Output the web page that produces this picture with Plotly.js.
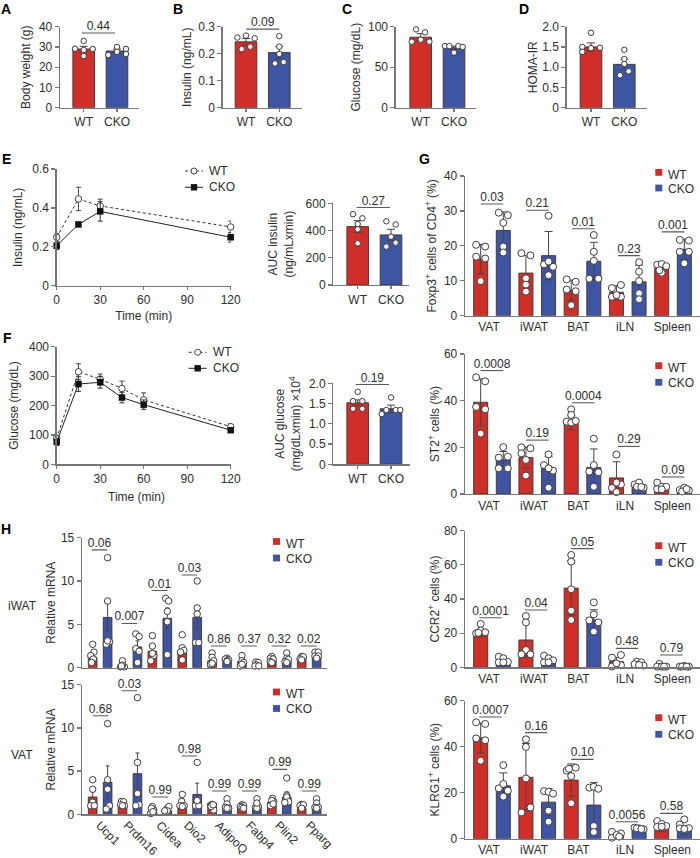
<!DOCTYPE html>
<html><head><meta charset="utf-8">
<script src="https://cdn.plot.ly/plotly-3.0.1.min.js"></script>
<style>html,body{margin:0;padding:0;background:#fff}</style>
</head><body><div id="chart" style="width:700px;height:858px"></div>
<script>
// ---------- shared labels ----------
const pair = ['WT','CKO'];
const tissues = ['VAT','iWAT','BAT','iLN','Spleen'];
const tissueTickVals = [0.37,2.36,4.32,6.38,8.47];
const genes = ['Ucp1','Prdm16','Cidea','Dio2','AdipoQ','Fabp4','Plin2','Pparg'];
const geneTickVals = [0.45,2.3,4.5,6.35,8.45,10.5,12.45,14.5];

// ---------- A-D, AUC panels: [WT, CKO] ----------
const aMeans=[29,28], aErrs=[1.3,0.9];
const aDots=[[29.1,33,29,28.5,25.5],[26,30,29,27.6,26.5]];
const aJit=[[-.26,0,.27,0,0],[-.26,0,.27,0,.27]];
const bMeans=[.244,.204], bErrs=[.012,.022];
const bDots=[[.26,.267,.257,.217,.226],[.265,.226,.199,.164,.169]];
const bJit=[[-.26,0,.26,-.13,.13],[0,0,0,-.13,.13]];
const cMeans=[87,74], cErrs=[4.5,2];
const cDots=[[96.7,93,84,81.5,81.5],[76,76,76,75,68]];
const cJit=[[-.14,.13,0,-.27,.26],[-.27,-.14,.13,.26,0]];
const dMeans=[1.5,1.07], dErrs=[.1,.13];
const dDots=[[1.85,1.5,1.47,1.48,1.38],[1.43,1.2,1.08,.9,.8]];
const dJit=[[0,-.26,0,.27,-.26],[0,0,0,.13,-.13]];
const eAucMeans=[429,368], eAucErrs=[44,41];
const eAucDots=[[520,490,448,409,306],[468,444,355,311,282]];
const eAucJit=[[-.14,.14,0,0,0],[-.14,.14,0,.14,-.14]];
const fAucMeans=[1.52,1.37], fAucErrs=[.07,.09];
const fAucDots=[[1.79,1.56,1.56,1.37,1.37],[1.65,1.34,1.34,1.24,1.34]];
const fAucJit=[[0,-.14,.14,-.14,.14],[0,-.14,.14,-.28,.28]];

// ---------- E, F time courses ----------
const eTimes=[0,15,30,120];
const eWt=[.249,.446,.41,.302], eWtErr=[.02,.06,.035,.03];
const eKo=[.206,.315,.382,.249], eKoErr=[.02,.01,.05,.025];
const fTimes=[0,15,30,45,60,120];
const fWt=[88,315,289,258,219,128], fWtErr=[10,27,18,25,24,10];
const fKo=[76,273,279,227,203,116], fKoErr=[12,25,20,18,16,8];

// ---------- G: alternating WT, CKO per tissue ----------
const g1Means=[16.2,24.4,12.2,17.2,7.3,15.6,6.7,9.7,13.6,19];
const g1Errs=[4.2,5.3,5,6.9,2.9,5.4,1.9,4.8,1,2.9];
const g1Dots=[[20.3,19.8,16.9,16.4,9.9],[29.5,28.8,26.6,19.8,18.1],[17.9,17.3,10.7,8.9,6.9],[28.6,14.7,14,15.5,11.6],[10.4,9.7,7.5,7,3],[23.1,18.3,15.7,10.6,10.6],[7.9,8.8,5.4,5.4,5.9],[15.3,12.6,9.9,6.4,4.7],[14.6,14.8,14.2,12.3,13],[21.7,21.5,18.3,18.3,15]];
const g1Jit=[[-.2,.2,-.2,.2,0],[-.2,.2,0,0,0],[-.2,.2,0,0,0],[0,-.2,.2,0,0],[-.2,.2,-.2,.2,0],[0,0,0,-.2,.2],[-.2,.2,-.2,.2,0],[0,0,0,0,0],[-.2,0,.2,0,-.1],[-.2,.2,-.2,.2,0]];
const g1P=['0.03','0.21','0.01','0.23','0.001'], g1Lv=[32,30.2,24.9,17.2,24];
const g2Means=[39.3,14.6,15.6,11,30.5,11.4,6.9,2.9,2.4,1.5];
const g2Errs=[10,3.6,4.5,5,3,7.9,6.9,.8,1.2,.6];
const g2Dots=[[50,48.3,37.3,36.3,25.9],[20.1,15.6,16,11,11],[20,19.6,17.4,14.6,7.9],[17,12.4,10,11,2.7],[36.3,33.9,31,30.6,31.3],[23.7,12.4,9.6,9.3,3.1],[16.9,4.1,4.9,2.6,.8],[4.1,4.9,2.7,3.1,3],[4.9,2.1,3.1,3.1,2],[1.7,2.7,1.6,1.1,2.1]];
const g2Jit=[[-.2,.2,-.2,.2,0],[0,-.2,.2,-.2,.2],[-.2,.2,-.2,0,0],[0,-.2,.2,0,0],[0,0,-.2,0,.2],[0,0,-.2,.2,0],[0,.2,0,-.2,0],[-.2,0,.2,-.1,.1],[-.2,-.2,0,.2,0],[-.2,0,.2,-.1,.1]];
const g2P=['0.0008','0.19','0.0004','0.29','0.09'], g2Lv=[52.9,23.1,39.1,20.4,7.3];
const g3Means=[19.9,3,16,2.7,46.4,27.7,3.3,1.6,.8,.5];
const g3Errs=[2,1.4,10,1.4,16,6,2.5,.8,.5,.2];
const g3Dots=[[25.4,19.9,21.5,20.5,20.2],[6.2,2.9,5.3,3.1,2.9],[30,26.3,10.1,7.6,7.6],[6.8,5.3,4.1,2.9,2.9],[65.8,61.9,45.7,33.2,27.7],[38,31,27.5,26.3,20.9],[5.7,7.2,.4,1.2,2.3],[3.3,2.9,1.8,1,1.4],[2,.4,.4,.4,.4],[.4,.8,.4,.4,.4]];
const g3Jit=[[0,-.2,0,.2,-.1],[-.2,-.2,0,.2,0],[0,0,0,-.2,.2],[-.2,0,.2,-.2,0],[0,0,0,0,0],[0,0,-.2,.2,0],[-.2,.2,-.2,.2,0],[-.1,.1,-.2,.2,0],[-.1,-.2,0,.2,.1],[-.2,0,.2,-.1,.1]];
const g3P=['0.0001','0.04','0.05','0.48','0.79'], g3Lv=[29,33.6,69.5,11.1,7.2];
const g4Means=[43.8,23,26.7,15.9,25.5,14.6,1.2,3.8,4.2,3.8];
const g4Errs=[6.5,5.6,14.7,5.9,7,9.8,1,.4,1.1,1.9];
const g4Dots=[[50.6,49.9,43.6,42.8,33.9],[32,21.9,20.9,23.8,18.3],[43.2,39.9,26.2,13.6,11.4],[20.7,20.4,19.6,12.2,7.4],[29.6,30.9,27.2,15.4,30.4],[22.2,22.6,21.7,5.5,2.9],[3,2.3,.4,1.6,.9],[4.8,4.5,4.1,4.5,4.2],[7.7,6.4,5.1,5.5,5.2],[8.4,6.2,4.6,4.5,4.2]];
const g4Jit=[[-.2,.2,-.2,.2,0],[0,-.2,.2,0,0],[0,0,0,.2,-.2],[-.2,0,.2,0,0],[-.2,.2,0,0,-.1],[-.2,0,.2,0,0],[-.2,.2,-.2,0,.12],[-.2,0,.2,-.1,.1],[-.2,0,-.2,.2,0],[0,-.2,.2,-.2,0]];
const g4P=['0.0007','0.16','0.10','0.0056','0.58'], g4Lv=[52.9,46.1,34.5,7.4,11];
const gSpans1=[[0,1],[2,3],[4.04,5.03],[6.07,7.03],[8,9]];
const gSpans3=[[-.06,.93],[1.96,2.94],[4,4.99],[5.97,6.96],[7.93,8.93]];

// ---------- H: alternating WT, CKO per gene ----------
const h1Means=[1.2,5.8,.2,2.4,1.9,5.7,1.85,5.8,.8,.9,.7,.5,.8,1,1.1,1.3];
const h1Errs=[.4,1.6,.1,.7,.5,1.2,.6,1.3,.3,.1,.3,.1,.15,.25,.1,.2];
const h1Dots=[[2.7,1.8,1.4,1,.6],[12.7,7.7,3,2.7,3.1],[.8,.1,.1,.3,.2],[3.9,3.6,2.2,1.9,.6],[3.7,2.5,1.4,.8,1.65],[8,7.7,6.5,5.3,1.5],[3.8,2.3,2,1.8,.9],[10,6.9,6.2,2.9,2.9],[1.7,1.2,.8,.4,.5],[1.1,1,.9,.8,.7],[1.4,.8,.6,.2,.4],[.65,.6,.3,.2,.2],[1.3,1.1,1,.7,.6],[1.7,1.1,.95,.7,.6],[1.3,1.1,1.25,1,.9],[1.8,1.8,1.35,1.35,1.1]];
const h1Jit=[[0,.09,-.13,.04,-.07],[0,0,.13,-.09,0],[0,-.13,.13,0,-.07],[-.11,.11,-.11,.11,0],[0,0,.09,-.11,0],[-.11,.09,0,0,0],[0,0,.11,-.11,0],[0,0,0,-.11,.11],[0,0,.11,-.11,0],[0,-.11,.11,0,0],[0,0,.11,-.11,0],[-.07,.09,0,-.13,.13],[0,-.09,.09,-.11,0],[0,0,.11,-.11,0],[0,0,.11,-.11,0],[-.11,.11,-.11,.11,0]];
const h1P=['0.06','0.007','0.01','0.03','0.86','0.37','0.32','0.02'], h1Lv=[13.6,5.1,8.9,10.7,2.5,2.5,2.5,2.5];
const h2Means=[2,3.7,.9,4.7,.3,.4,.9,2.3,1.3,1,.8,1,1.4,2,.7,1];
const h2Errs=[.6,1.9,.15,2.4,.1,.1,.3,1.3,.1,.3,.1,.25,.2,.6,.1,.25];
const h2Dots=[[4,2.9,1.4,1,1],[10.5,4,2.9,1,.6],[1.5,1.45,1.1,1,1],[13.5,6,2.4,1.1,1],[.9,.5,.1,.7,.3],[.7,.9,.4,.4,.4],[2.3,1.5,1,1,.9],[6,1.7,1,1,1.6],[1,1.15,.5,.9,1.1],[1.8,1.2,.8,.7,.7],[1.1,1,.9,.8,.7],[1.8,.9,.8,.7,1.3],[1.85,1.45,1,1.6,1.2],[4.2,2.2,2,1.45,1.35],[1.15,.9,1,1.1,.7],[1.8,1.3,.8,.8,.7]];
const h2Jit=[[0,0,0,-.13,.11],[0,0,0,.13,-.09],[-.07,.07,-.13,.13,0],[0,0,0,.11,-.11],[0,.09,-.11,-.07,.04],[0,.11,-.11,0,-.18],[0,-.04,-.16,.13,0],[0,0,-.11,.11,0],[-.11,0,.11,-.07,.07],[0,0,-.11,.11,0],[0,.11,-.11,0,.11],[0,.09,-.09,0,0],[.04,.13,-.09,0,.09],[0,0,0,.13,-.13],[0,0,-.11,.11,0],[0,0,-.11,.11,0]];
const h2P=['0.68','0.03','0.99','0.98','0.99','0.99','0.99','0.99'], h2Lv=[11.4,14.3,2,6.75,2.7,2.7,5.2,2.7];
const h1Spans=[[-.06,.98],[1.94,2.98],[3.94,5],[5.96,7],[7.93,8.98],[9.96,11],[11.98,13],[13.94,15]];
const h2Spans=[[0,1.05],[1.94,2.98],[4,5.05],[5.96,7],[8,8.98],[10,11],[12.05,13.02],[14,15]];

// ---------- styling ----------
const RED='#cf2f28', BLUE='#3e55a4', INK='#2e2e2e', AXIS='#777777', EDGE='#40302f';
const FF='"Liberation Sans", Arial, sans-serif', FS=12;
const PW=700, PH=858;
const traces=[], layout={width:PW,height:PH,margin:{l:0,r:0,t:0,b:0},showlegend:false,hovermode:false,
  paper_bgcolor:'#fff',plot_bgcolor:'#fff',font:{family:FF,size:FS,color:INK},barmode:'overlay',shapes:[],annotations:[]};
let idx=0;
const px=v=>v/PW, py=v=>1-v/PH;

function axes(p){
  idx++; const s=idx===1?'':String(idx);
  const common={showgrid:false,zeroline:false,showline:true,linecolor:AXIS,linewidth:1.3,tickfont:{family:FF,size:FS,color:INK}};
  layout['xaxis'+s]=Object.assign({},common,{domain:[px(p.L),px(p.R)],range:p.xr,anchor:'y'+s,
     tickmode:'array',tickvals:p.xv,ticktext:p.xt,ticks:p.xticks||'',ticklen:3,tickcolor:AXIS,tickwidth:1.2,
     tickangle:p.xangle||0,ticklabelstandoff:p.xso||0,
     title:p.xtitle?{text:p.xtitle,standoff:p.xtso||5,font:{family:FF,size:FS,color:INK}}:undefined});
  layout['yaxis'+s]=Object.assign({},common,{domain:[py(p.B),py(p.T)],range:p.yr,anchor:'x'+s,
     tickmode:'array',tickvals:p.yv,ticktext:p.yt,ticks:'outside',ticklen:4,tickcolor:AXIS,tickwidth:1.2,
     title:{text:p.ytitle,standoff:p.yso,font:{family:FF,size:FS,color:INK}}});
  return {xa:'x'+s,ya:'y'+s};
}
function barPanel(p){
  p.xr=[(p.L-p.c0)/p.slot,(p.R-p.c0)/p.slot];
  const {xa,ya}=axes(p);
  [0,1].forEach(k=>{
    const sel=p.means.map((_,i)=>i).filter(i=>i%2===k);
    traces.push({type:'bar',name:pair[k],x:sel,y:sel.map(i=>p.means[i]),width:p.barW,xaxis:xa,yaxis:ya,cliponaxis:false,
      marker:{color:k?BLUE:RED,line:{color:EDGE,width:.9}},
      error_y:{type:'data',array:sel.map(i=>p.errs[i]),color:'#4a4343',thickness:1,width:p.cap}});
  });
  [0,1].forEach(k=>{
    const sel=p.means.map((_,i)=>i).filter(i=>i%2===k);
    traces.push({type:'scatter',mode:'markers',name:pair[k]+' mice',xaxis:xa,yaxis:ya,cliponaxis:false,
      x:sel.flatMap(i=>p.dots[i].map((_,j)=>i+p.jit[i][j])),y:sel.flatMap(i=>p.dots[i]),
      marker:{color:'#fff',size:p.dot,line:{color:'#3c3c3c',width:1}}});
  });
  p.pv.forEach((t,i)=>{
    const [a,b]=p.spans[i];
    traces.push({type:'scatter',mode:'lines+text',xaxis:xa,yaxis:ya,cliponaxis:false,name:'p='+t,
      x:[a,(a+b)/2,b],y:[p.lv[i],p.lv[i],p.lv[i]],text:['',t,''],textposition:'top center',
      textfont:{family:FF,size:FS,color:INK},line:{color:'#5a5a5a',width:1.1}});
  });
}
function linePanel(p){
  p.xr=[0,120];
  const {xa,ya}=axes(p);
  traces.push({type:'scatter',mode:'lines+markers',name:'WT',x:p.t,y:p.wt,xaxis:xa,yaxis:ya,cliponaxis:false,
    line:{color:'#333',width:1,dash:'3px,2.5px'},marker:{symbol:'circle',size:6.5,color:'#fff',line:{color:'#444',width:1}},
    error_y:{type:'data',array:p.wtE,color:'#444',thickness:1,width:2.5}});
  traces.push({type:'scatter',mode:'lines+markers',name:'CKO',x:p.t,y:p.ko,xaxis:xa,yaxis:ya,cliponaxis:false,
    line:{color:'#222',width:1},marker:{symbol:'square',size:6.5,color:'#111'},
    error_y:{type:'data',array:p.koE,color:'#333',thickness:1,width:2.5}});
}
function rect(x0,x1,y0,y1,c){layout.shapes.push({type:'rect',xref:'paper',yref:'paper',x0:px(x0),x1:px(x1),y0:py(y0),y1:py(y1),fillcolor:c,line:{width:0}});}
function label(x,y,t,o){layout.annotations.push(Object.assign({xref:'paper',yref:'paper',x:px(x),y:py(y),text:t,showarrow:false,xanchor:'left',yanchor:'middle',borderpad:0,font:{family:FF,size:FS,color:INK}},o||{}));}
function barLegend(sx,ty,cy,ty2,cy2){
  rect(sx,sx+7,cy-3.4,cy+3.4,RED); label(sx+12,ty,pair[0]);
  rect(sx,sx+7,cy2-3.4,cy2+3.4,BLUE); label(sx+12,ty2,pair[1]);
}
function lineLegend(x0,x1,y1,y2,tx){
  const m=(x0+x1)/2;
  layout.shapes.push({type:'line',xref:'paper',yref:'paper',x0:px(x0),x1:px(x1),y0:py(y1),y1:py(y1),line:{color:'#333',width:1,dash:'3px,2.5px'}});
  layout.shapes.push({type:'circle',xref:'paper',yref:'paper',x0:px(m-3),x1:px(m+3),y0:py(y1-3),y1:py(y1+3),fillcolor:'#fff',line:{color:'#444',width:1}});
  layout.shapes.push({type:'line',xref:'paper',yref:'paper',x0:px(x0),x1:px(x1),y0:py(y2),y1:py(y2),line:{color:'#222',width:1}});
  rect(m-3.2,m+3.2,y2-3.2,y2+3.2,'#111');
  label(tx,y1,pair[0]); label(tx,y2,pair[1]);
}

// ---------- panels (boxes in page pixels) ----------
const two={xv:[0,1],xt:pair,xticks:'outside',barW:.65,cap:4,dot:5.5};
const rowBase=107.7, rowTop=26.7;
barPanel({...two,L:60,R:139,T:rowTop,B:rowBase,c0:83.7,slot:33.3,yr:[0,40],yv:[0,10,20,30,40],yt:['0','10','20','30','40'],ytitle:'Body weight (g)',yso:5.5,
  means:aMeans,errs:aErrs,dots:aDots,jit:aJit,pv:['0.44'],lv:[36.9],spans:[[-.06,.94]]});
barPanel({...two,L:222.7,R:301.7,T:rowTop,B:rowBase,c0:246,slot:33.3,yr:[0,.3],yv:[0,.1,.2,.3],yt:['0','0.1','0.2','0.3'],ytitle:'Insulin (ng/mL)',yso:3.5,
  means:bMeans,errs:bErrs,dots:bDots,jit:bJit,pv:['0.09'],lv:[.291],spans:[[0,1]]});
barPanel({...two,L:395.7,R:475.7,T:rowTop,B:rowBase,c0:420.7,slot:33.3,yr:[0,100],yv:[0,50,100],yt:['0','50','100'],ytitle:'Glucose (mg/dL)',yso:4,
  means:cMeans,errs:cErrs,dots:cDots,jit:cJit,pv:['0.005'],lv:[103.7],spans:[[0,.98]]});
barPanel({...two,L:566.7,R:646.7,T:rowTop,B:rowBase,c0:591,slot:33.3,yr:[0,2],yv:[0,.5,1,1.5,2],yt:['0','0.5','1.0','1.5','2.0'],ytitle:'HOMA-IR',yso:2,
  means:dMeans,errs:dErrs,dots:dDots,jit:dJit,pv:['0.01'],lv:[2.02],spans:[[0,1]]});

linePanel({L:56.7,R:230.7,T:169,B:285.7,xv:[0,30,60,90,120],xt:['0','30','60','90','120'],xticks:'outside',xtitle:'Time (min)',yso:7,
  yr:[0,.6],yv:[0,.2,.4,.6],yt:['0','0.2','0.4','0.6'],ytitle:'Insulin (ng/mL)',t:eTimes,wt:eWt,wtE:eWtErr,ko:eKo,koE:eKoErr});
lineLegend(185,203,171,187.3,208);
barPanel({...two,L:333.3,R:409.3,T:203.3,B:285,c0:357.7,slot:33.3,yr:[0,600],yv:[0,200,400,600],yt:['0','200','400','600'],ytitle:'AUC insulin<br>(ng/mLxmin)',yso:9,
  means:eAucMeans,errs:eAucErrs,dots:eAucDots,jit:eAucJit,pv:['0.27'],lv:[569],spans:[[-.03,.97]]});

linePanel({L:56.7,R:230.7,T:346.7,B:464.3,xv:[0,30,60,90,120],xt:['0','30','60','90','120'],xticks:'outside',yso:7,
  yr:[0,400],yv:[0,100,200,300,400],yt:['0','100','200','300','400'],ytitle:'Glucose (mg/dL)',t:fTimes,wt:fWt,wtE:fWtErr,ko:fKo,koE:fKoErr});
label(136,496.5,'Time (min)',{xanchor:'center'});
lineLegend(188.7,206.7,352.3,368.3,211.7);
barPanel({...two,L:333.3,R:410,T:383.3,B:464.3,c0:357.7,slot:33.3,yr:[0,2],yv:[0,.5,1,1.5,2],yt:['0','0.5','1.0','1.5','2.0'],ytitle:'AUC glucose<br>(mg/dLxmin) ×10<sup>4</sup>',yso:5.5,
  means:fAucMeans,errs:fAucErrs,dots:fAucDots,jit:fAucJit,pv:['0.19'],lv:[1.97],spans:[[-.06,.94]]});

const gBase={L:465,R:700,c0:480.67,slot:22.63,xv:tissueTickVals,xt:tissues,barW:.62,cap:4,dot:7};
barPanel({...gBase,T:176,B:315.7,yr:[0,40],yv:[0,10,20,30,40],yt:['0','10','20','30','40'],ytitle:'Foxp3<sup>+</sup> cells of CD4<sup>+</sup> (%)',yso:4.5,
  means:g1Means,errs:g1Errs,dots:g1Dots,jit:g1Jit,pv:g1P,lv:g1Lv,spans:gSpans1});
barLegend(655.3,175,172.4,189.3,188);
barPanel({...gBase,T:354,B:494,yr:[0,60],yv:[0,20,40,60],yt:['0','20','40','60'],ytitle:'ST2<sup>+</sup> cells (%)',yso:1.5,
  means:g2Means,errs:g2Errs,dots:g2Dots,jit:g2Jit,pv:g2P,lv:g2Lv,spans:gSpans1});
barLegend(655.3,368,365.7,382.7,382.3);
barPanel({...gBase,T:530.7,B:667.3,yr:[0,80],yv:[0,20,40,60,80],yt:['0','20','40','60','80'],ytitle:'CCR2<sup>+</sup> cells (%)',yso:1.5,
  means:g3Means,errs:g3Errs,dots:g3Dots,jit:g3Jit,pv:g3P,lv:g3Lv,spans:gSpans3});
barLegend(655.3,548,545.7,562.7,562.3);
barPanel({...gBase,T:700.7,B:838.7,yr:[0,60],yv:[0,20,40,60],yt:['0','20','40','60'],ytitle:'KLRG1<sup>+</sup> cells (%)',yso:1.5,
  means:g4Means,errs:g4Errs,dots:g4Dots,jit:g4Jit,pv:g4P,lv:g4Lv,spans:gSpans3});
barLegend(655.3,720,717.7,735,734.3);

const hBase={L:82,R:327.3,c0:92.67,slot:14.93,barW:.58,cap:2,dot:6.5,yr:[0,15],yv:[0,5,10,15],yt:['0','5','10','15'],ytitle:'Relative mRNA',yso:2.5};
barPanel({...hBase,T:537.7,B:667.7,xv:[],xt:[],means:h1Means,errs:h1Errs,dots:h1Dots,jit:h1Jit,pv:h1P,lv:h1Lv,spans:h1Spans});
barLegend(273,543.5,541.5,558.5,558);
label(22,605.7,'iWAT',{xanchor:'center'});
barPanel({...hBase,T:684.7,B:814.3,xv:geneTickVals,xt:genes,xangle:45,xso:-2,means:h2Means,errs:h2Errs,dots:h2Dots,jit:h2Jit,pv:h2P,lv:h2Lv,spans:h2Spans});
barLegend(273,694,692,709,708.5);
label(22,755,'VAT',{xanchor:'center'});

// panel letters
const letters=[['A',0,9],['B',172,9],['C',341,9],['D',518,9],['E',1,159],['F',2,338],['G',418,159],['H',0,529]];
letters.forEach(l=>label(l[1],l[2],'<b>'+l[0]+'</b>',{font:{family:FF,size:14,color:'#000'}}));

Plotly.newPlot('chart',traces,layout,{displayModeBar:false,staticPlot:true});
</script></body></html>
